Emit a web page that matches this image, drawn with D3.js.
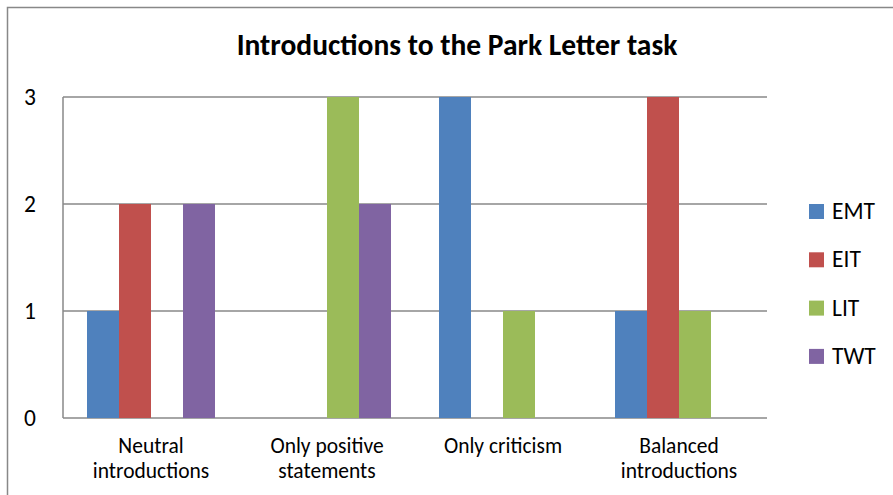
<!DOCTYPE html>
<html><head><meta charset="utf-8">
<script src="https://cdn.jsdelivr.net/npm/d3@7"></script>
<style>body{margin:0;background:#fff;}svg{display:block;font-family:Carlito,Calibri,"Open Sans","Liberation Sans",sans-serif;}</style>
</head><body>
<script>
const categories = [["Neutral","introductions"],["Only positive","statements"],["Only criticism"],["Balanced","introductions"]];
const seriesNames = ["EMT","EIT","LIT","TWT"];
const EMT = [1,0,3,1];
const EIT = [2,0,0,3];
const LIT = [0,3,1,1];
const TWT = [2,2,0,0];
const yTicks = [0,1,2,3];
const colors = ["#4F81BD","#C0504D","#9BBB59","#8064A2"];
const title = "Introductions to the Park Letter task";

(function(){
const seriesVals = [EMT,EIT,LIT,TWT];
const W=893,H=495;
const svg=d3.select("body").append("svg").attr("width",W).attr("height",H);
svg.append("rect").attr("x",7.5).attr("y",7.5).attr("width",W).attr("height",H).attr("fill","none").attr("stroke","#888").attr("stroke-width",1.5);

const pL=63,pR=767,pT=97,pB=418;
const catKeys=categories.map((c,i)=>i);
const x0=d3.scaleBand().domain(catKeys).range([pL,pR]);
const bw=x0.bandwidth();
const x1=d3.scaleBand().domain(seriesNames).range([bw*24/176,bw*152/176]);
const y=d3.scaleLinear().domain([0,3]).range([pB,pT]);

svg.append("g").selectAll("line").data(yTicks).join("line")
 .attr("x1",pL).attr("x2",pR).attr("y1",d=>y(d)).attr("y2",d=>y(d))
 .attr("stroke","#888").attr("stroke-width",1.5);
svg.append("line").attr("x1",pL).attr("x2",pL).attr("y1",pT).attr("y2",pB).attr("stroke","#888").attr("stroke-width",1.5);

const g=svg.append("g");
catKeys.forEach(ci=>{
  seriesNames.forEach((s,si)=>{
    const v=seriesVals[si][ci];
    if(v>0) g.append("rect").attr("x",x0(ci)+x1(s)).attr("width",x1.bandwidth())
      .attr("y",y(v)).attr("height",y(0)-y(v)).attr("fill",colors[si]);
  });
});

svg.append("g").selectAll("text").data(yTicks).join("text")
 .attr("x",30).attr("y",d=>y(d)+8).attr("text-anchor","middle")
 .attr("font-size",23.5).attr("fill","#000").text(d=>d);

catKeys.forEach(ci=>{
  const cx=x0(ci)+bw/2;
  const t=svg.append("text").attr("text-anchor","middle").attr("font-size",21.5).attr("fill","#000");
  categories[ci].forEach((line,li)=>{
    t.append("tspan").attr("x",cx).attr("y",453+li*24.5).text(line);
  });
});

svg.append("text").attr("x",457).attr("y",55).attr("text-anchor","middle")
 .attr("font-size",29.5).attr("font-weight","bold").attr("fill","#000").text(title);

const lg=svg.append("g");
seriesNames.forEach((s,i)=>{
  const base=219+i*48.3;
  lg.append("rect").attr("x",809).attr("y",base-15).attr("width",15).attr("height",15).attr("fill",colors[i]);
  lg.append("text").attr("x",832).attr("y",base).attr("font-size",23.5).attr("fill","#000").text(s);
});
})();
</script>
</body></html>
